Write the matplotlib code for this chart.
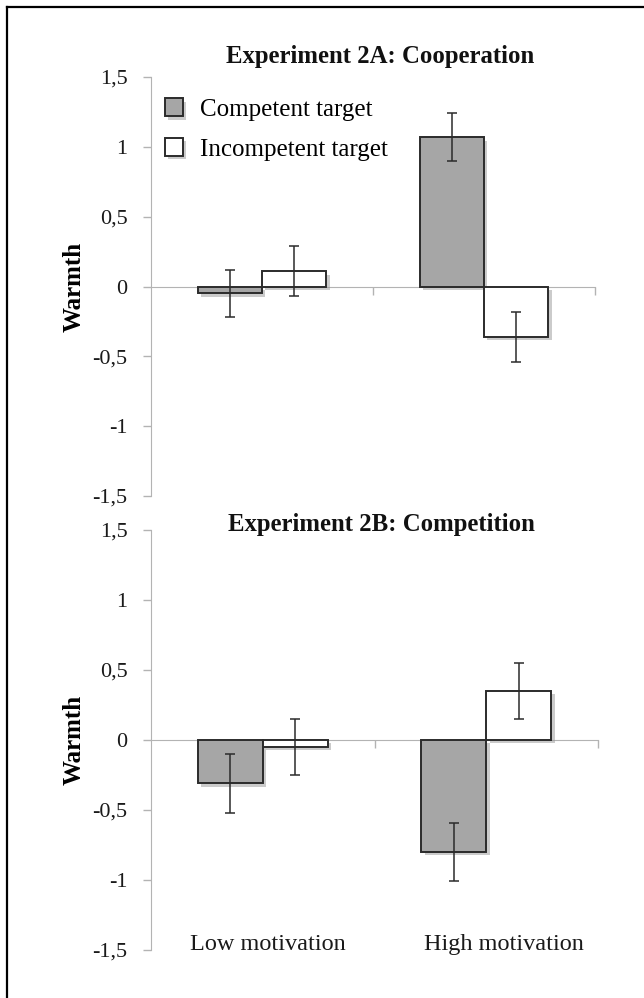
import matplotlib.pyplot as plt
import matplotlib.patheffects as pe
from matplotlib.lines import Line2D
import numpy as np

plt.rcParams["font.family"] = ["Liberation Serif", "DejaVu Serif"]

conditions = ["Low motivation", "High motivation"]
series_names = ["Competent target", "Incompetent target"]

coop_competent = [-0.05, 1.07]
coop_competent_err = [0.17, 0.17]
coop_incompetent = [0.11, -0.36]
coop_incompetent_err = [0.18, 0.18]

comp_competent = [-0.31, -0.80]
comp_competent_err = [0.21, 0.21]
comp_incompetent = [-0.05, 0.35]
comp_incompetent_err = [0.20, 0.20]

yticks = [-1.5, -1, -0.5, 0, 0.5, 1, 1.5]
ytick_labels = ["-1,5", "-1", "-0,5", "0", "0,5", "1", "1,5"]

W, H = 644, 998
fig = plt.figure(figsize=(W / 100, H / 100), dpi=100)

axis_grey = "#b3b3b3"
edge = "#2b2b2b"
shadow = [pe.SimplePatchShadow(offset=(2.5, -2.5), shadow_rgbFace="#999999", alpha=0.5), pe.Normal()]


def panel(rect, title, title_y, comp, comp_err, incomp, incomp_err, show_legend, show_xlabels):
    ax = fig.add_axes(rect)
    x = np.arange(len(conditions))
    w = 0.29
    b1 = ax.bar(x - w / 2, comp, w, color="#a6a6a6", edgecolor=edge, linewidth=1.4,
                label=series_names[0], zorder=3)
    b2 = ax.bar(x + w / 2, incomp, w, color="white", edgecolor=edge, linewidth=1.4,
                label=series_names[1], zorder=3)
    for b in list(b1) + list(b2):
        b.set_path_effects(shadow)
    ax.errorbar(x - w / 2, comp, yerr=comp_err, fmt="none", ecolor=edge,
                elinewidth=1.1, capsize=3.3, capthick=1.1, zorder=4)
    ax.errorbar(x + w / 2, incomp, yerr=incomp_err, fmt="none", ecolor=edge,
                elinewidth=1.1, capsize=3.3, capthick=1.1, zorder=4)

    ax.set_xlim(-0.5, 1.5)
    ax.set_ylim(-1.5, 1.5)
    ax.set_yticks(yticks)
    ax.set_yticklabels(ytick_labels, fontsize=16, color="#1a1a1a")
    ax.tick_params(axis="y", length=6, width=1, color=axis_grey, pad=11)

    ax.spines["top"].set_visible(False)
    ax.spines["right"].set_visible(False)
    ax.spines["left"].set_color(axis_grey)
    ax.spines["bottom"].set_color(axis_grey)
    ax.spines["bottom"].set_position(("data", 0))
    ax.set_xticks([0.5, 1.5])
    ax.set_xticklabels([])
    ax.tick_params(axis="x", direction="out", length=6, width=1, color=axis_grey)

    ax.set_ylabel("Warmth", fontsize=18, fontweight="bold", labelpad=5)
    ax.text(0.516, title_y, title, transform=ax.transAxes, ha="center", va="center",
            fontsize=17.8, fontweight="bold", color="#111111")

    if show_xlabels:
        for xi, off, lab in zip(x, [0.025, 0.08], conditions):
            ax.text(xi + off, 0.012, lab, transform=ax.get_xaxis_transform(),
                    ha="center", va="center", fontsize=17.5, color="#1a1a1a")
    if show_legend:
        ax.legend(loc="upper left", bbox_to_anchor=(0.009, 0.973), frameon=False,
                  fontsize=18, handlelength=0.72, handleheight=0.72,
                  handletextpad=0.68, labelspacing=0.68, borderaxespad=0.0)
    return ax


panel([151 / W, 1 - 496 / H, 444 / W, 419 / H], "Experiment 2A: Cooperation", 1 + 20 / 419,
      coop_competent, coop_competent_err, coop_incompetent, coop_incompetent_err,
      True, False)
panel([151 / W, 1 - 950 / H, 447 / W, 420 / H], "Experiment 2B: Competition", 1 + 6 / 420,
      comp_competent, comp_competent_err, comp_incompetent, comp_incompetent_err,
      False, True)

# frame around the figure (only left and top edges visible in the crop)
fig.add_artist(Line2D([7 / W, 7 / W], [0, 1 - 7 / H], color="black", linewidth=1.6,
                      transform=fig.transFigure))
fig.add_artist(Line2D([7 / W, 1], [1 - 7 / H, 1 - 7 / H], color="black", linewidth=1.6,
                      transform=fig.transFigure))

fig.savefig("out.png", dpi=100)
